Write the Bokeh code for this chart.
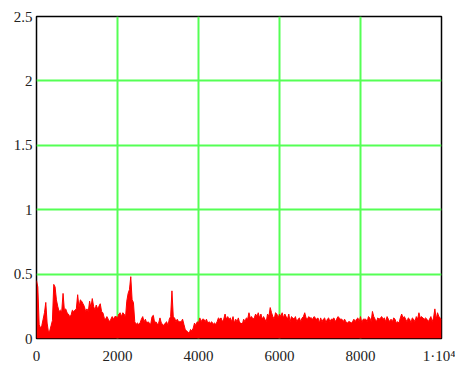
from bokeh.plotting import figure
from bokeh.models import Range1d, FixedTicker
from bokeh.embed import file_html
from bokeh.resources import INLINE

# signal envelope, evenly spaced samples over 0..10000
y_seg1 = [0.45, 0.40, 0.11, 0.08, 0.10, 0.15, 0.20, 0.28, 0.12, 0.05, 0.06, 0.10,
          0.14, 0.42, 0.40, 0.30, 0.25, 0.21, 0.22, 0.21, 0.35, 0.22, 0.23, 0.20,
          0.19, 0.17, 0.18, 0.22, 0.21, 0.22, 0.23, 0.34, 0.24, 0.30, 0.29, 0.27,
          0.25, 0.21, 0.23, 0.21, 0.29, 0.24, 0.31, 0.25, 0.22, 0.26, 0.23, 0.25]
y_seg2 = [0.27, 0.21, 0.20, 0.16, 0.15, 0.17, 0.15, 0.13, 0.15, 0.17, 0.15, 0.17,
          0.17, 0.16, 0.19, 0.20, 0.17, 0.20, 0.19, 0.16, 0.29, 0.35, 0.38, 0.48,
          0.30, 0.28, 0.13, 0.11, 0.12, 0.11, 0.12, 0.15, 0.17, 0.13, 0.15, 0.12,
          0.13, 0.12, 0.11, 0.17, 0.18, 0.12, 0.13, 0.11, 0.12, 0.16, 0.12, 0.11,
          0.10, 0.12, 0.13, 0.10, 0.15]
y_seg3 = [0.17, 0.37, 0.17, 0.16, 0.13, 0.15, 0.13, 0.13, 0.13, 0.15, 0.11, 0.07,
          0.06, 0.05, 0.04, 0.07, 0.06, 0.08, 0.12, 0.10, 0.13, 0.12, 0.16, 0.13,
          0.15, 0.15, 0.13, 0.15, 0.12, 0.13, 0.12, 0.13, 0.11, 0.12, 0.11, 0.13,
          0.16, 0.15, 0.16, 0.13, 0.15, 0.19, 0.15, 0.17, 0.15, 0.16, 0.13, 0.17,
          0.12, 0.15, 0.13, 0.16, 0.12]
y_seg4 = [0.12, 0.11, 0.15, 0.13, 0.16, 0.15, 0.20, 0.16, 0.17, 0.15, 0.16, 0.19,
          0.17, 0.20, 0.16, 0.19, 0.15, 0.17, 0.15, 0.13, 0.19, 0.17, 0.24, 0.20,
          0.17, 0.15, 0.20, 0.19, 0.16, 0.19, 0.17, 0.20, 0.16, 0.19, 0.17, 0.15,
          0.19, 0.13, 0.17, 0.16, 0.15, 0.17, 0.13, 0.15, 0.16, 0.13, 0.16, 0.17,
          0.20, 0.16, 0.15, 0.17, 0.16]
y_seg5 = [0.16, 0.15, 0.17, 0.16, 0.15, 0.16, 0.12, 0.16, 0.13, 0.15, 0.16, 0.12,
          0.15, 0.16, 0.13, 0.15, 0.15, 0.16, 0.13, 0.15, 0.17, 0.16, 0.15, 0.15,
          0.13, 0.15, 0.13, 0.12, 0.13, 0.13, 0.12, 0.13, 0.15, 0.13, 0.15, 0.16,
          0.13, 0.17, 0.12, 0.15, 0.15, 0.15, 0.13, 0.17, 0.16, 0.13, 0.21, 0.17,
          0.15, 0.13, 0.16, 0.15, 0.16]
y_seg6 = [0.17, 0.15, 0.16, 0.13, 0.17, 0.15, 0.13, 0.15, 0.13, 0.16, 0.15, 0.12,
          0.13, 0.12, 0.16, 0.19, 0.16, 0.17, 0.15, 0.13, 0.16, 0.15, 0.12, 0.16,
          0.15, 0.13, 0.17, 0.15, 0.20, 0.16, 0.17, 0.16, 0.15, 0.16, 0.15, 0.13,
          0.15, 0.17, 0.13, 0.16, 0.23, 0.15, 0.20, 0.17, 0.16, 0.15]

y_values = y_seg1 + y_seg2 + y_seg3 + y_seg4 + y_seg5 + y_seg6
n = len(y_values)
x_max = 10000
x_values = [i * x_max / (n - 1) for i in range(n)]

x_ticks = [0, 2000, 4000, 6000, 8000, 10000]
x_tick_labels = {10000: "1·10⁴"}
y_ticks = [0, 0.5, 1, 1.5, 2, 2.5]

p = figure(width=455, height=366, output_backend="svg", toolbar_location=None,
           x_range=Range1d(0, x_max), y_range=Range1d(0, 2.5),
           min_border_left=36, min_border_right=14, min_border_top=16,
           min_border_bottom=27)

p.varea(x=x_values, y1=[0] * n, y2=y_values, fill_color="#ff0000")
p.line(x=x_values, y=y_values, line_color="#ff0000", line_width=1)

p.outline_line_color = "black"
p.outline_line_width = 1.5

for ax in (p.xaxis[0], p.yaxis[0]):
    ax.axis_line_color = None
    ax.major_tick_line_color = None
    ax.minor_tick_line_color = None
    ax.major_tick_out = 0
    ax.major_tick_in = 0
    ax.minor_tick_out = 0
    ax.minor_tick_in = 0
    ax.major_label_text_font = "Liberation Serif"
    ax.major_label_text_font_size = "15px"
    ax.major_label_text_color = "#222222"

p.xaxis[0].ticker = FixedTicker(ticks=x_ticks)
p.xaxis[0].major_label_overrides = x_tick_labels
p.xaxis[0].major_label_standoff = 9
p.yaxis[0].ticker = FixedTicker(ticks=y_ticks)
p.yaxis[0].major_label_standoff = 4

p.xgrid.grid_line_color = "#55ff55"
p.xgrid.grid_line_width = 2
p.ygrid.grid_line_color = "#55ff55"
p.ygrid.grid_line_width = 2

open("out.html", "w").write(file_html(p, INLINE))
